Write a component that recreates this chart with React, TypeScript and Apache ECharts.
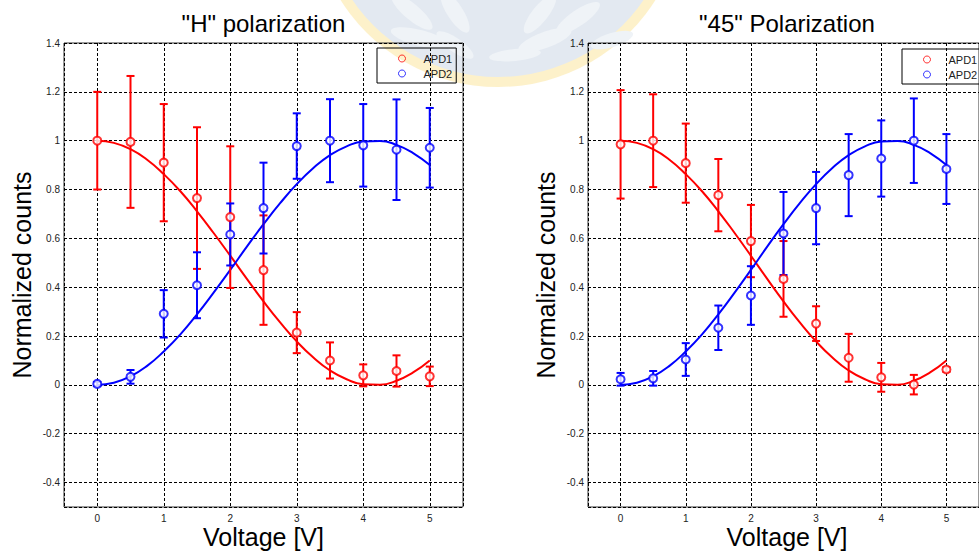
import React, { useEffect, useRef } from "react";
import * as echarts from "echarts";

// Measured voltages
const voltage = [0, 0.5, 1, 1.5, 2, 2.5, 3, 3.5, 4, 4.5, 5];

// "H" polarization: normalized counts and error half-widths
const hApd1 = [1.0, 0.995, 0.91, 0.765, 0.687, 0.47, 0.214, 0.1, 0.039, 0.057, 0.035];
const hApd1Err = [0.2, 0.27, 0.24, 0.29, 0.29, 0.224, 0.084, 0.074, 0.045, 0.064, 0.04];
const hApd2 = [0.004, 0.033, 0.291, 0.408, 0.616, 0.724, 0.978, 1.0, 0.981, 0.963, 0.971];
const hApd2Err = [0.008, 0.028, 0.097, 0.135, 0.127, 0.186, 0.134, 0.17, 0.169, 0.206, 0.163];

// "45" polarization
const dApd1 = [0.985, 1.0, 0.908, 0.777, 0.589, 0.434, 0.251, 0.111, 0.031, 0.001, 0.063];
const dApd1Err = [0.222, 0.19, 0.162, 0.148, 0.148, 0.155, 0.071, 0.098, 0.059, 0.04, 0.01];
const dApd2 = [0.023, 0.027, 0.104, 0.234, 0.366, 0.62, 0.724, 0.859, 0.927, 1.0, 0.884];
const dApd2Err = [0.026, 0.03, 0.067, 0.091, 0.12, 0.17, 0.148, 0.168, 0.156, 0.173, 0.143];

// Fitted curves
const fitVoltage = [0, 0.25, 0.5, 0.75, 1, 1.25, 1.5, 1.75, 2, 2.25, 2.5, 2.75, 3, 3.25, 3.5, 3.75, 4, 4.25, 4.5, 4.75, 5];
const fitApd1 = [1.0, 0.991, 0.965, 0.922, 0.863, 0.793, 0.711, 0.622, 0.529, 0.434, 0.342, 0.256, 0.178, 0.112, 0.059, 0.023, 0.003, 0.001, 0.017, 0.051, 0.1];
const fitApd2 = [0.0, 0.009, 0.035, 0.078, 0.137, 0.207, 0.289, 0.378, 0.471, 0.566, 0.658, 0.744, 0.822, 0.888, 0.941, 0.977, 0.997, 0.999, 0.983, 0.949, 0.9];

const titles = ['"H" polarization', '"45" Polarization'];
const xName = "Voltage [V]";
const yName = "Normalized counts";
const seriesNames = ["APD1", "APD2"];

const RED = "#ff0000";
const BLUE = "#0000ff";
const FONT = "'Liberation Sans', Arial, sans-serif";

const panels = [
  { left: 64, width: 399, apd1: hApd1, e1: hApd1Err, apd2: hApd2, e2: hApd2Err },
  { left: 588, width: 398, apd1: dApd1, e1: dApd1Err, apd2: dApd2, e2: dApd2Err },
];
const TOP = 43;
const HEIGHT = 464;

function errorData(vals: number[], errs: number[]) {
  return voltage.map((v, i) => [v, vals[i] - errs[i], vals[i] + errs[i]]);
}

function errorSeries(name: string, color: string, idx: number, data: number[][]) {
  return {
    type: "custom",
    name,
    xAxisIndex: idx,
    yAxisIndex: idx,
    encode: { x: 0, y: [1, 2] },
    data,
    z: 3,
    renderItem: (params: any, api: any) => {
      const x = api.value(0);
      const lo = api.coord([x, api.value(1)]);
      const hi = api.coord([x, api.value(2)]);
      const style = { stroke: color, lineWidth: 2 };
      return {
        type: "group",
        children: [
          { type: "line", shape: { x1: lo[0], y1: lo[1], x2: hi[0], y2: hi[1] }, style },
          { type: "line", shape: { x1: lo[0] - 4, y1: lo[1], x2: lo[0] + 4, y2: lo[1] }, style },
          { type: "line", shape: { x1: hi[0] - 4, y1: hi[1], x2: hi[0] + 4, y2: hi[1] }, style },
        ],
      };
    },
  };
}

function pointSeries(name: string, color: string, idx: number, vals: number[]) {
  return {
    type: "scatter",
    name,
    xAxisIndex: idx,
    yAxisIndex: idx,
    symbol: "emptyCircle",
    symbolSize: 8,
    z: 4,
    itemStyle: { color, borderColor: color, borderWidth: 1.6 },
    data: voltage.map((v, i) => [v, vals[i]]),
  };
}

function fitSeries(name: string, color: string, idx: number, vals: number[]) {
  return {
    type: "line",
    name,
    xAxisIndex: idx,
    yAxisIndex: idx,
    smooth: true,
    showSymbol: false,
    z: 2,
    lineStyle: { color, width: 2 },
    data: fitVoltage.map((v, i) => [v, vals[i]]),
  };
}

// Faint seal in the page background
function sealGraphics() {
  const cx = 498;
  const cy = -99;
  const leaves = [
    { x: 412, y: 12, rot: -0.7, rx: 26, ry: 8 },
    { x: 455, y: 12, rot: -1.0, rx: 24, ry: 8 },
    { x: 420, y: 38, rot: -0.25, rx: 30, ry: 8 },
    { x: 455, y: 45, rot: -0.6, rx: 22, ry: 7 },
    { x: 540, y: 14, rot: 0.9, rx: 24, ry: 8 },
    { x: 578, y: 18, rot: 0.6, rx: 26, ry: 8 },
    { x: 545, y: 40, rot: 0.35, rx: 28, ry: 8 },
    { x: 515, y: 55, rot: 0.1, rx: 26, ry: 6 },
    { x: 612, y: 40, rot: 0.3, rx: 22, ry: 7 },
  ];
  return [
    { type: "circle", z: -20, silent: true, shape: { cx, cy, r: 186 }, style: { fill: "rgba(251,228,150,0.5)" } },
    { type: "circle", z: -19, silent: true, shape: { cx, cy, r: 176 }, style: { fill: "#e3e9f1" } },
    ...leaves.map((l) => ({
      type: "ellipse",
      z: -18,
      silent: true,
      x: l.x,
      y: l.y,
      rotation: l.rot,
      shape: { cx: 0, cy: 0, rx: l.rx, ry: l.ry },
      style: { fill: "#eff3f7" },
    })),
  ];
}

export default function App() {
  const ref = useRef<HTMLDivElement>(null);

  useEffect(() => {
    if (!ref.current) return;
    const chart = echarts.init(ref.current, undefined, { renderer: "svg" });

    const texts: any[] = [];
    panels.forEach((p, i) => {
      const center = p.left + p.width / 2;
      texts.push({
        type: "text",
        z: 10,
        x: center,
        y: 23,
        style: { text: titles[i], font: `24px ${FONT}`, fill: "#000", textAlign: "center", textVerticalAlign: "middle" },
      });
      texts.push({
        type: "text",
        z: 10,
        x: center,
        y: 537,
        style: { text: xName, font: `25px ${FONT}`, fill: "#000", textAlign: "center", textVerticalAlign: "middle" },
      });
      texts.push({
        type: "text",
        z: 10,
        x: p.left - 42,
        y: TOP + HEIGHT / 2,
        rotation: Math.PI / 2,
        style: { text: yName, font: `25px ${FONT}`, fill: "#000", textAlign: "center", textVerticalAlign: "middle" },
      });
    });

    const legendBoxes = [
      { left: 377, top: 48 },
      { left: 902, top: 49 },
    ];

    chart.setOption({
      animation: false,
      backgroundColor: "#ffffff",
      graphic: [...sealGraphics(), ...texts],
      grid: panels.map((p) => ({
        left: p.left,
        top: TOP,
        width: p.width,
        height: HEIGHT,
        show: true,
        backgroundColor: "transparent",
        borderColor: "#333",
        borderWidth: 1,
      })),
      legend: legendBoxes.map((b) => ({
        left: b.left,
        top: b.top,
        orient: "vertical",
        padding: [5, 4, 4, 21],
        borderColor: "#000",
        borderWidth: 1,
        backgroundColor: "transparent",
        itemWidth: 7,
        itemHeight: 7,
        itemGap: 4,
        selectedMode: false,
        formatter: (name: string) => `{t|${name}}`,
        textStyle: {
          fontSize: 11,
          fontFamily: FONT,
          color: "#222",
          rich: { t: { fontSize: 11, fontFamily: FONT, color: "#222", lineHeight: 12, padding: [0, 0, 0, 13] } },
        },
        data: [
          { name: seriesNames[0], icon: "circle", itemStyle: { color: "transparent", borderColor: RED, borderWidth: 1 } },
          { name: seriesNames[1], icon: "circle", itemStyle: { color: "transparent", borderColor: BLUE, borderWidth: 1 } },
        ],
      })),
      xAxis: panels.map((_, i) => ({
        type: "value",
        gridIndex: i,
        min: -0.5,
        max: 5.5,
        splitNumber: 6,
        axisLine: { show: false },
        axisTick: { show: false },
        axisLabel: { showMinLabel: false, showMaxLabel: false, fontSize: 10, fontFamily: FONT, color: "#222", margin: 6 },
        splitLine: { show: true, lineStyle: { color: "#000", width: 1, type: [3, 2] } },
      })),
      yAxis: panels.map((_, i) => ({
        type: "value",
        gridIndex: i,
        min: -0.5,
        max: 1.4,
        splitNumber: 10,
        axisLine: { show: false },
        axisTick: { show: false },
        axisLabel: { showMinLabel: false, fontSize: 10, fontFamily: FONT, color: "#222", margin: 4 },
        splitLine: { show: true, lineStyle: { color: "#000", width: 1, type: [3, 2] } },
      })),
      series: panels.flatMap((p, i) => [
        fitSeries("APD1 fit", RED, i, fitApd1),
        fitSeries("APD2 fit", BLUE, i, fitApd2),
        errorSeries("APD1 error", RED, i, errorData(p.apd1, p.e1)),
        errorSeries("APD2 error", BLUE, i, errorData(p.apd2, p.e2)),
        pointSeries(seriesNames[0], RED, i, p.apd1),
        pointSeries(seriesNames[1], BLUE, i, p.apd2),
      ]),
    });

    return () => chart.dispose();
  }, []);

  return (
    <div
      ref={ref}
      style={{ position: "fixed", left: 0, top: 0, width: 979, height: 552 }}
    />
  );
}
